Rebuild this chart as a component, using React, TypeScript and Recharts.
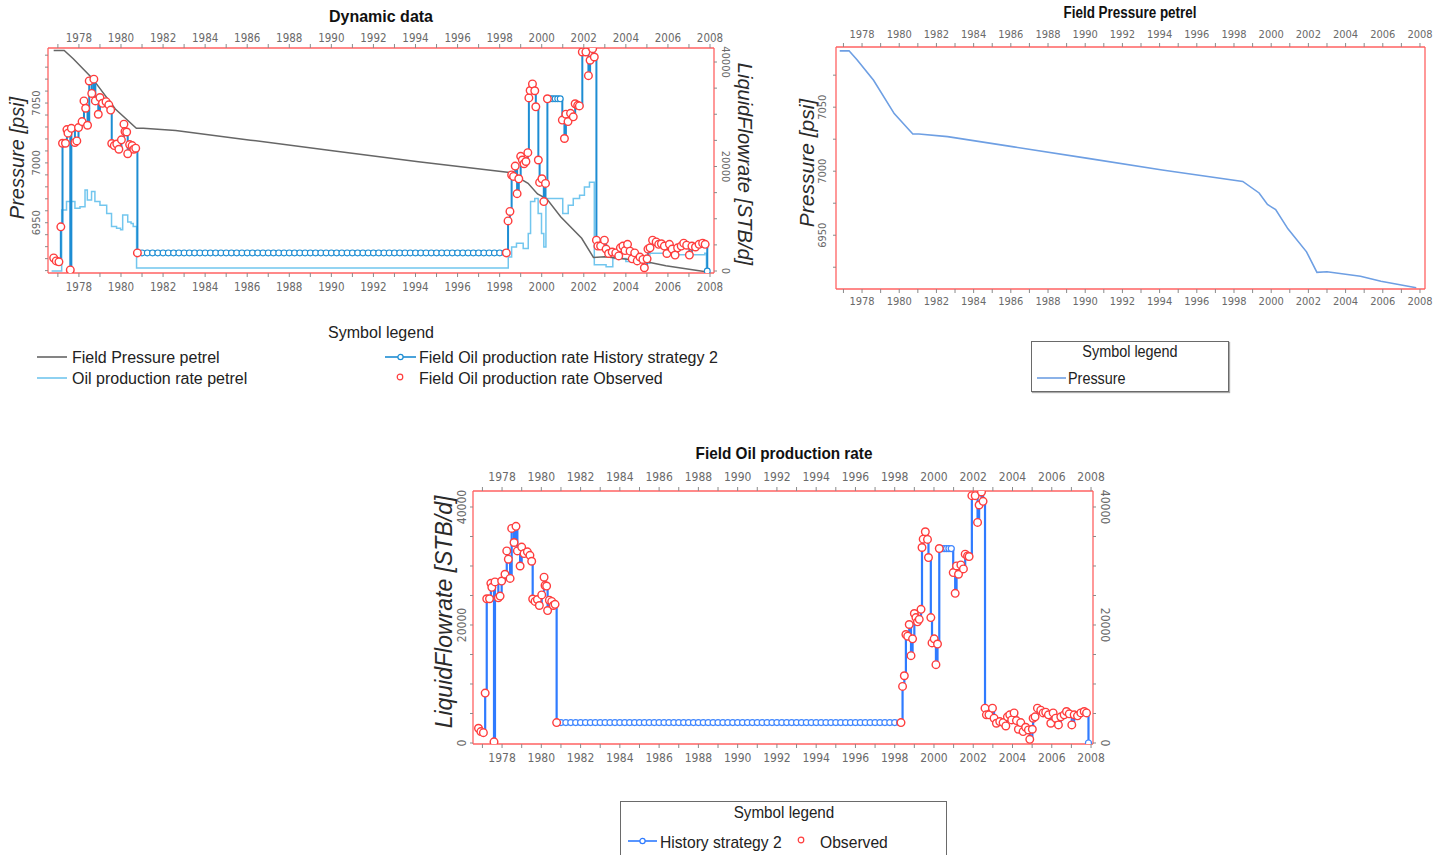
import { ComposedChart, Line, Scatter, XAxis, YAxis } from "recharts"

// axis ticks
const yearTicks = [
  1977, 1978, 1979, 1980, 1981, 1982, 1983, 1984, 1985, 1986, 1987, 1988, 1989, 1990, 1991, 1992,
  1993, 1994, 1995, 1996, 1997, 1998, 1999, 2000, 2001, 2002, 2003, 2004, 2005, 2006, 2007, 2008,
]
const yearLabels = [1978, 1980, 1982, 1984, 1986, 1988, 1990, 1992, 1994, 1996, 1998, 2000, 2002, 2004, 2006, 2008]
const pressureTicksDyn = [
  6910, 6920, 6930, 6940, 6950, 6960, 6970, 6980, 6990, 7000, 7010, 7020, 7030, 7040, 7050, 7060, 7070, 7080, 7090,
]
const pressureTicksField = [6925, 6950, 6975, 7000, 7025, 7050, 7075]
const pressureLabels = [6950, 7000, 7050]
const rateTicks = [0, 5000, 10000, 15000, 20000, 25000, 30000, 35000, 40000]
const rateLabels = [0, 20000, 40000]

// field pressure (petrel)
const pressureYears = [
  1976.8, 1977.3, 1977.73, 1978.62, 1979.73, 1980.73, 1981.06, 1982.6, 1986.16, 1990.15, 1994.14,
  1998.47, 1999.35, 1999.8, 2000.24, 2000.9, 2001.9, 2002.46, 2003.0, 2004.8, 2005.9, 2007.8,
]
const pressureValues = [
  7094, 7094, 7087, 7071, 7045, 7029, 7029, 7027, 7019, 7010, 7001,
  6992, 6983, 6974, 6970, 6955, 6937, 6921, 6921.5, 6918, 6914, 6909,
]

// observed oil production rate
const obsYears = [
  1976.8, 1976.92, 1977.05, 1977.14, 1977.22, 1977.36, 1977.43, 1977.48, 1977.59, 1977.64, 1977.81,
  1977.9, 1977.98, 1978.15, 1978.24, 1978.32, 1978.41, 1978.49, 1978.61, 1978.71, 1978.78, 1978.92,
  1979.0, 1979.12, 1979.29, 1979.42, 1979.51, 1979.56, 1979.68, 1979.8, 1979.9, 1980.02, 1980.14,
  1980.19, 1980.27, 1980.32, 1980.41, 1980.53, 1980.61, 1980.7, 1980.78,
  1998.32, 1998.4, 1998.49, 1998.57, 1998.66, 1998.74, 1998.83, 1998.91, 1999.0, 1999.08, 1999.16,
  1999.25, 1999.34, 1999.39, 1999.45, 1999.56, 1999.67, 1999.72, 1999.84, 1999.9, 2000.01, 2000.1,
  2000.18, 2000.27, 2000.98, 2001.08, 2001.15, 2001.25, 2001.37, 2001.5, 2001.59, 2001.71, 2001.79,
  2001.93, 2002.1, 2002.22, 2002.3, 2002.42, 2002.5, 2002.6, 2002.67, 2002.8, 2002.98, 2003.06,
  2003.18, 2003.35, 2003.52, 2003.66, 2003.74, 2003.86, 2003.96, 2004.08, 2004.2, 2004.3, 2004.42,
  2004.54, 2004.67, 2004.81, 2004.88, 2005.01, 2005.05, 2005.15, 2005.27, 2005.44, 2005.56, 2005.69,
  2005.83, 2005.95, 2006.07, 2006.2, 2006.34, 2006.46, 2006.63, 2006.75, 2006.89, 2007.02, 2007.14,
  2007.31, 2007.48, 2007.65, 2007.77,
]
const obsRates = [
  2500, 1930, 1750, 8460, 24450, 24450, 27060, 26380, 200, 27300, 24600,
  24900, 27450, 28600, 32560, 31150, 27900, 36370, 33980, 36720, 32560, 30000,
  33200, 32100, 32400, 31800, 30800, 24400, 24000, 24300, 23300, 25100, 28100,
  26700, 26600, 22450, 24200, 24000, 23300, 23500, 3460,
  3460, 9590, 11400, 18380, 18100, 20080, 14800, 17650, 21950, 21250, 20530,
  20960, 22650, 33130, 34550, 35800, 34500, 31430, 21250, 16960, 17650, 13280,
  16770, 32960, 28880, 25360, 30010, 28600, 30180, 29500, 32000, 31700, 31600,
  41920, 41920, 37390, 40340, 42550, 40960, 5900, 4770, 4770, 5900, 4200,
  3350, 3630, 3460, 2890, 4430, 4770, 3910, 5100, 3800, 2330, 3460,
  1930, 2670, 2210, 620, 2330, 4200, 4430, 5900, 5560, 5100, 5220,
  4770, 3350, 5100, 4200, 3060, 4430, 4770, 5330, 4940, 3060, 4770,
  4600, 5100, 5330, 5100,
]

// history strategy 2: follows the observations, plus the shut-in plateaus
const histFlatYears = [
  1981, 1981.25, 1981.5, 1981.75, 1982, 1982.25, 1982.5, 1982.75, 1983, 1983.25, 1983.5, 1983.75,
  1984, 1984.25, 1984.5, 1984.75, 1985, 1985.25, 1985.5, 1985.75, 1986, 1986.25, 1986.5, 1986.75,
  1987, 1987.25, 1987.5, 1987.75, 1988, 1988.25, 1988.5, 1988.75, 1989, 1989.25, 1989.5, 1989.75,
  1990, 1990.25, 1990.5, 1990.75, 1991, 1991.25, 1991.5, 1991.75, 1992, 1992.25, 1992.5, 1992.75,
  1993, 1993.25, 1993.5, 1993.75, 1994, 1994.25, 1994.5, 1994.75, 1995, 1995.25, 1995.5, 1995.75,
  1996, 1996.25, 1996.5, 1996.75, 1997, 1997.25, 1997.5, 1997.75, 1998, 1998.25,
]
const histFlatRate = 3460
const histPlateauYears = [2000.4, 2000.52, 2000.64, 2000.76, 2000.88]
const histPlateauRate = 32960
const histShutInYears = [2007.87]
const histShutInRate = 0

// oil production rate petrel
const petrelYears = [
  1976.7, 1977.18, 1977.41, 1977.65, 1977.81, 1978.05, 1978.29, 1978.4, 1978.6, 1978.76, 1979.0,
  1979.32, 1979.55, 1979.79, 1979.98, 1980.08, 1980.24, 1980.32, 1980.48, 1980.58, 1980.74,
  1998.41, 1998.57, 1998.8, 1999.12, 1999.36, 1999.47, 1999.67, 1999.83, 1999.99, 2000.1, 2000.2,
  2000.86, 2001.0, 2001.26, 2001.5, 2001.8, 2002.03, 2002.27, 2002.5, 2003.06, 2003.38, 2004.0,
  2004.5, 2004.98, 2005.14, 2006.4, 2007.75, 2007.83,
]
const petrelRates = [
  0, 11700, 13300, 13300, 12000, 12300, 15500, 13600, 15200, 13300, 12600,
  11000, 8500, 8200, 7900, 10700, 10700, 9400, 9100, 8500, 600,
  2700, 4600, 5300, 4300, 7200, 13300, 13900, 11000, 7200, 4600, 13900,
  13900, 11000, 12600, 13900, 14500, 16100, 17000, 1200, 800, 2400, 1800,
  2100, 1500, 3400, 3100, 3400, 0,
]

const pressureData = pressureYears.map((t, i) => ({ t, p: pressureValues[i] }))
const observedData = obsYears.map((t, i) => ({ t, q: obsRates[i] }))
const petrelData = petrelYears.map((t, i) => ({ t, q: petrelRates[i] }))
const historyData = [
  ...observedData,
  ...histFlatYears.map((t) => ({ t, q: histFlatRate })),
  ...histPlateauYears.map((t) => ({ t, q: histPlateauRate })),
  ...histShutInYears.map((t) => ({ t, q: histShutInRate })),
].sort((a, b) => a.t - b.t)

const FRAME = "#ff6262"
const TICK_LINE = "#8a8a8a"
const TICK_TEXT = "#6a6a6a"
const NARROW = '"DejaVu Sans Condensed", "Liberation Sans", sans-serif'
const SANS = '"Liberation Sans", Arial, sans-serif'

const xTick = (side: "top" | "bottom", size: number) => (p: any) => {
  const v = p.payload.value
  if (!yearLabels.includes(v)) return <g />
  const y = side === "top" ? p.y - 4 : p.y + 4
  return (
    <text x={p.x} y={y} textAnchor="middle" dominantBaseline="central" fontSize={size} fontFamily={NARROW} fill={TICK_TEXT}>
      {v}
    </text>
  )
}

const yTick = (side: "left" | "right", labels: number[], size: number) => (p: any) => {
  const v = p.payload.value
  if (!labels.includes(v)) return <g />
  const x = side === "left" ? p.x - 4 : p.x + 4
  const angle = side === "left" ? -90 : 90
  return (
    <text
      x={x}
      y={p.y}
      transform={`rotate(${angle} ${x} ${p.y})`}
      textAnchor="middle"
      dominantBaseline="central"
      fontSize={size}
      fontFamily={NARROW}
      fill={TICK_TEXT}
    >
      {v}
    </text>
  )
}

const observedDot = (p: any) => <circle cx={p.cx} cy={p.cy} r={3.8} fill="#fff" stroke="#ff3d3d" strokeWidth={1.4} />

const axisLine = { stroke: FRAME, strokeWidth: 1.3 }
const tickLine = { stroke: TICK_LINE }

function Centered({ x, y, rotate = 0, sx = 1, style, children }: any) {
  return (
    <div
      style={{
        position: "absolute",
        left: x,
        top: y,
        transform: `translate(-50%, -50%) rotate(${rotate}deg) scaleX(${sx})`,
        whiteSpace: "nowrap",
        lineHeight: 1,
        fontFamily: SANS,
        ...style,
      }}
    >
      {children}
    </div>
  )
}

function Text({ x, y, size, sx = 1, children }: any) {
  return (
    <div
      style={{
        position: "absolute",
        left: x,
        top: y,
        transform: `translateY(-50%) scaleX(${sx})`,
        transformOrigin: "left center",
        whiteSpace: "nowrap",
        lineHeight: 1,
        fontSize: size,
        fontFamily: SANS,
        color: "#222",
      }}
    >
      {children}
    </div>
  )
}

function LegendLine({ x1, x2, y, color, marker = false, width = 1.6 }: any) {
  const mid = (x2 - x1) / 2
  return (
    <svg style={{ position: "absolute", left: x1, top: y - 5 }} width={x2 - x1} height={10}>
      <line x1={0} y1={5} x2={x2 - x1} y2={5} stroke={color} strokeWidth={width} />
      {marker && <circle cx={mid} cy={5} r={2.6} fill="#fff" stroke={color} strokeWidth={1.2} />}
    </svg>
  )
}

function ObservedMark({ x, y }: any) {
  return (
    <svg style={{ position: "absolute", left: x - 5, top: y - 5 }} width={10} height={10}>
      <circle cx={5} cy={5} r={2.8} fill="#fff" stroke="#ff3d3d" strokeWidth={1.2} />
    </svg>
  )
}

function DynamicChart() {
  const xDomain = [1976.53, 2008.19]
  return (
    <ComposedChart width={760} height={300} margin={{ top: 0, right: 0, bottom: 0, left: 0 }}>
      <XAxis xAxisId="top" orientation="top" type="number" dataKey="t" domain={xDomain} allowDataOverflow ticks={yearTicks} interval={0} height={48} tickSize={4} tickMargin={2} tick={xTick("top", 11.5)} axisLine={axisLine} tickLine={tickLine} />
      <XAxis xAxisId="bot" type="number" dataKey="t" domain={xDomain} allowDataOverflow ticks={yearTicks} interval={0} height={27} tickSize={4} tickMargin={6} tick={xTick("bottom", 11.5)} axisLine={axisLine} tickLine={tickLine} />
      <YAxis yAxisId="p" type="number" dataKey="p" domain={[6908, 7096]} allowDataOverflow ticks={pressureTicksDyn} interval={0} width={48} tickSize={3} tickMargin={4} tick={yTick("left", pressureLabels, 11)} axisLine={axisLine} tickLine={tickLine} />
      <YAxis yAxisId="q" orientation="right" type="number" dataKey="q" domain={[-380, 42680]} allowDataOverflow ticks={rateTicks} interval={0} width={46} tickSize={3} tickMargin={4} tick={yTick("right", rateLabels, 11)} axisLine={axisLine} tickLine={tickLine} />
      <Line xAxisId="bot" yAxisId="q" data={petrelData} dataKey="q" type="stepAfter" stroke="#72c6ee" strokeWidth={1.5} dot={false} activeDot={false} isAnimationActive={false} />
      <Line xAxisId="bot" yAxisId="p" data={pressureData} dataKey="p" type="linear" stroke="#666" strokeWidth={1.5} dot={false} activeDot={false} isAnimationActive={false} />
      <Line xAxisId="bot" yAxisId="q" data={historyData} dataKey="q" type="stepAfter" stroke="#1d8dd3" strokeWidth={2} dot={{ r: 2.9, fill: "#fff", stroke: "#1d8dd3", strokeWidth: 1.1 }} activeDot={false} isAnimationActive={false} />
      <Scatter xAxisId="bot" yAxisId="q" data={observedData} dataKey="q" shape={observedDot} isAnimationActive={false} />
    </ComposedChart>
  )
}

function PressureChart() {
  const xDomain = [1976.6, 2008.27]
  const yDomain = [6908, 7097]
  return (
    <ComposedChart width={650} height={310} margin={{ top: 0, right: 0, bottom: 0, left: 0 }}>
      <XAxis xAxisId="top" orientation="top" type="number" dataKey="t" domain={xDomain} allowDataOverflow ticks={yearTicks} interval={0} height={47} tickSize={4} tickMargin={5} tick={xTick("top", 11)} axisLine={axisLine} tickLine={tickLine} />
      <XAxis xAxisId="bot" type="number" dataKey="t" domain={xDomain} allowDataOverflow ticks={yearTicks} interval={0} height={21} tickSize={4} tickMargin={4} tick={xTick("bottom", 11)} axisLine={axisLine} tickLine={tickLine} />
      <YAxis yAxisId="p" type="number" dataKey="p" domain={yDomain} allowDataOverflow ticks={pressureTicksField} interval={0} width={46} tickSize={3} tickMargin={6} tick={yTick("left", pressureLabels, 11)} axisLine={axisLine} tickLine={tickLine} />
      <YAxis yAxisId="p2" orientation="right" type="number" dataKey="p" domain={yDomain} allowDataOverflow ticks={pressureTicksField} interval={0} width={15} tickSize={3} tick={false} axisLine={axisLine} tickLine={tickLine} />
      <Line xAxisId="bot" yAxisId="p" data={pressureData} dataKey="p" type="linear" stroke="#6e9fe3" strokeWidth={1.6} dot={false} activeDot={false} isAnimationActive={false} />
    </ComposedChart>
  )
}

function RateChart() {
  const xDomain = [1976.52, 2008.1]
  const yDomain = [-170, 42710]
  return (
    <ComposedChart width={720} height={340} margin={{ top: 0, right: 0, bottom: 0, left: 0 }}>
      <XAxis xAxisId="top" orientation="top" type="number" dataKey="t" domain={xDomain} allowDataOverflow ticks={yearTicks} interval={0} height={51} tickSize={4} tickMargin={6} tick={xTick("top", 12)} axisLine={axisLine} tickLine={tickLine} />
      <XAxis xAxisId="bot" type="number" dataKey="t" domain={xDomain} allowDataOverflow ticks={yearTicks} interval={0} height={36} tickSize={4} tickMargin={6} tick={xTick("bottom", 12)} axisLine={axisLine} tickLine={tickLine} />
      <YAxis yAxisId="q" type="number" dataKey="q" domain={yDomain} allowDataOverflow ticks={rateTicks} interval={0} width={53} tickSize={3} tickMargin={4} tick={yTick("left", rateLabels, 12)} axisLine={axisLine} tickLine={tickLine} />
      <YAxis yAxisId="q2" orientation="right" type="number" dataKey="q" domain={yDomain} allowDataOverflow ticks={rateTicks} interval={0} width={47} tickSize={3} tickMargin={5} tick={yTick("right", rateLabels, 12)} axisLine={axisLine} tickLine={tickLine} />
      <Line xAxisId="bot" yAxisId="q" data={historyData} dataKey="q" type="stepAfter" stroke="#2f7bff" strokeWidth={2.2} dot={{ r: 3, fill: "#fff", stroke: "#3f86ff", strokeWidth: 1.2 }} activeDot={false} isAnimationActive={false} />
      <Scatter xAxisId="bot" yAxisId="q" data={observedData} dataKey="q" shape={observedDot} isAnimationActive={false} />
    </ComposedChart>
  )
}

export default function App() {
  const title = { fontWeight: 700, color: "#111" }
  const axisTitle = { fontStyle: "italic", color: "#2a2a2a" }
  return (
    <div style={{ position: "absolute", left: 0, top: 0, width: 1440, height: 855, overflow: "hidden", background: "#fff", fontFamily: SANS }}>
      {/* Dynamic data */}
      <div style={{ position: "absolute", left: 0, top: 0 }}>
        <DynamicChart />
      </div>
      <Centered x={381} y={17} style={{ ...title, fontSize: 16 }}>Dynamic data</Centered>
      <Centered x={17} y={158} rotate={-90} style={{ ...axisTitle, fontSize: 20 }}>Pressure [psi]</Centered>
      <Centered x={745} y={164} rotate={90} style={{ ...axisTitle, fontSize: 20 }}>LiquidFlowrate [STB/d]</Centered>
      <Centered x={381} y={333} style={{ fontSize: 16, color: "#222" }}>Symbol legend</Centered>
      <LegendLine x1={37} x2={67} y={357} color="#666" />
      <Text x={72} y={358} size={16}>Field Pressure petrel</Text>
      <LegendLine x1={37} x2={67} y={378} color="#72c6ee" />
      <Text x={72} y={379} size={16}>Oil production rate petrel</Text>
      <LegendLine x1={385} x2={416} y={357} color="#1d8dd3" marker />
      <Text x={419} y={358} size={16}>Field Oil production rate History strategy 2</Text>
      <ObservedMark x={400} y={377} />
      <Text x={419} y={379} size={16}>Field Oil production rate Observed</Text>

      {/* Field Pressure petrel */}
      <div style={{ position: "absolute", left: 790, top: 0 }}>
        <PressureChart />
      </div>
      <Centered x={1130} y={13} sx={0.84} style={{ ...title, fontSize: 16 }}>Field Pressure petrel</Centered>
      <Centered x={806} y={163} rotate={-90} style={{ ...axisTitle, fontSize: 21 }}>Pressure [psi]</Centered>
      <div style={{ position: "absolute", left: 1031, top: 341, width: 196, height: 49, border: "1px solid #6a6a6a", boxShadow: "1px 1px 1px #aaa" }} />
      <Centered x={1130} y={352} sx={0.9} style={{ fontSize: 16, color: "#222" }}>Symbol legend</Centered>
      <LegendLine x1={1037} x2={1066} y={378} color="#6e9fe3" />
      <Text x={1068} y={379} size={16} sx={0.9}>Pressure</Text>

      {/* Field Oil production rate */}
      <div style={{ position: "absolute", left: 420, top: 440 }}>
        <RateChart />
      </div>
      <Centered x={784} y={453} sx={0.9} style={{ ...title, fontSize: 17 }}>Field Oil production rate</Centered>
      <Centered x={444} y={612} rotate={-90} style={{ ...axisTitle, fontSize: 23 }}>LiquidFlowrate [STB/d]</Centered>
      <div style={{ position: "absolute", left: 620, top: 801, width: 325, height: 70, border: "1px solid #6a6a6a" }} />
      <Centered x={784} y={813} sx={0.95} style={{ fontSize: 16, color: "#222" }}>Symbol legend</Centered>
      <LegendLine x1={628} x2={657} y={841} color="#2f7bff" marker />
      <Text x={660} y={842} size={17} sx={0.92}>History strategy 2</Text>
      <ObservedMark x={801} y={840} />
      <Text x={820} y={842} size={17} sx={0.92}>Observed</Text>
    </div>
  )
}
